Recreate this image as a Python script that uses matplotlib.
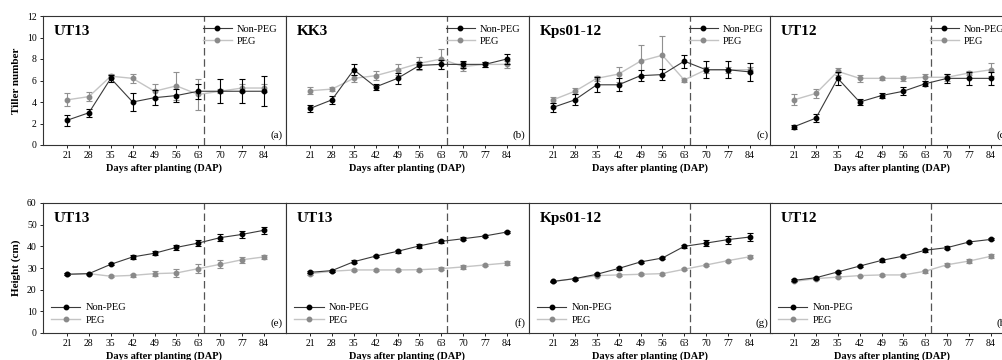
import numpy as np
import matplotlib
matplotlib.use('Agg')
import matplotlib.pyplot as plt
from matplotlib.lines import Line2D

plt.rcParams['font.family'] = ['Liberation Serif', 'DejaVu Serif']

days = [21, 28, 35, 42, 49, 56, 63, 70, 77, 84]
genotypes_top = ['UT13', 'KK3', 'Kps01-12', 'UT12']
genotypes_bottom = ['UT13', 'UT13', 'Kps01-12', 'UT12']
letters_top = ['(a)', '(b)', '(c)', '(d)']
letters_bottom = ['(e)', '(f)', '(g)', '(h)']

# tiller number, Non-PEG / PEG, mean and error
tiller_nonpeg = [
    [2.3, 3.0, 6.2, 4.0, 4.4, 4.6, 5.0, 5.0, 5.0, 5.0],
    [3.4, 4.2, 7.0, 5.4, 6.2, 7.4, 7.5, 7.5, 7.5, 8.0],
    [3.5, 4.2, 5.6, 5.6, 6.45, 6.55, 7.8, 7.0, 7.0, 6.8],
    [1.7, 2.5, 6.2, 4.0, 4.6, 5.0, 5.7, 6.2, 6.2, 6.2],
]
tiller_nonpeg_err = [
    [0.5, 0.35, 0.3, 0.85, 0.7, 0.6, 0.7, 1.1, 1.1, 1.4],
    [0.3, 0.4, 0.5, 0.3, 0.5, 0.3, 0.4, 0.3, 0.2, 0.5],
    [0.4, 0.5, 0.7, 0.6, 0.5, 0.5, 0.6, 0.8, 0.8, 0.8],
    [0.2, 0.4, 0.6, 0.3, 0.2, 0.35, 0.25, 0.4, 0.6, 0.6],
]
tiller_peg = [
    [4.2, 4.5, 6.4, 6.2, 5.0, 5.5, 4.7, 5.0, 5.3, 5.3],
    [5.05, 5.2, 6.2, 6.45, 7.0, 7.6, 8.0, 7.3, 7.5, 7.5],
    [4.2, 5.0, 6.2, 6.6, 7.8, 8.35, 6.05, 7.0, 7.0, 7.0],
    [4.2, 4.8, 6.85, 6.2, 6.2, 6.2, 6.3, 6.3, 6.7, 7.0],
]
tiller_peg_err = [
    [0.6, 0.45, 0.2, 0.4, 0.7, 1.3, 1.4, 0.2, 0.4, 0.4],
    [0.3, 0.2, 0.3, 0.4, 0.5, 0.6, 0.9, 0.4, 0.25, 0.3],
    [0.3, 0.3, 0.2, 0.7, 1.5, 1.8, 0.2, 0.3, 0.3, 0.3],
    [0.5, 0.4, 0.3, 0.3, 0.15, 0.25, 0.35, 0.35, 0.2, 0.6],
]

# plant height (cm)
height_nonpeg = [
    [27.1, 27.4, 31.7, 35.1, 36.8, 39.5, 41.5, 44.0, 45.5, 47.4],
    [28.0, 28.8, 32.9, 35.5, 37.7, 40.2, 42.3, 43.5, 44.8, 46.6],
    [23.8, 25.1, 27.1, 29.8, 32.8, 34.6, 40.0, 41.5, 43.1, 44.3],
    [24.3, 25.5, 28.2, 30.9, 33.5, 35.5, 38.2, 39.4, 42.0, 43.2],
]
height_nonpeg_err = [
    [0.5, 0.3, 0.5, 1.0, 1.0, 1.0, 1.5, 1.5, 1.5, 1.5],
    [0.5, 0.5, 0.6, 0.5, 0.6, 0.8, 0.7, 0.6, 0.5, 0.6],
    [0.3, 0.5, 0.5, 0.5, 0.6, 0.6, 0.8, 1.3, 1.8, 1.8],
    [0.4, 0.5, 0.5, 0.6, 0.5, 0.5, 0.6, 0.6, 0.6, 0.5],
]
height_peg = [
    [27.1, 27.4, 26.2, 26.6, 27.4, 27.7, 29.7, 31.7, 33.8, 35.1],
    [27.4, 28.5, 29.1, 29.1, 29.1, 29.2, 29.7, 30.5, 31.4, 32.3],
    [23.8, 25.1, 26.5, 26.8, 27.1, 27.4, 29.4, 31.4, 33.4, 35.2],
    [23.8, 25.1, 25.8, 26.5, 26.8, 26.8, 28.5, 31.5, 33.2, 35.4],
]
height_peg_err = [
    [0.5, 0.5, 0.5, 0.8, 1.3, 1.8, 2.0, 1.8, 1.3, 1.0],
    [0.5, 0.5, 0.5, 0.5, 0.5, 0.5, 0.6, 0.8, 0.6, 0.8],
    [0.4, 0.5, 0.4, 0.4, 0.4, 0.4, 0.5, 0.5, 0.5, 0.6],
    [0.4, 0.5, 0.5, 0.4, 0.4, 0.4, 0.6, 0.8, 0.8, 1.0],
]

W, H = 1003, 360
fig = plt.figure(figsize=(W / 100, H / 100), dpi=100)

lefts = [43, 286, 529, 770]
width = 243

peg_line = '#c4c4c4'
peg_mark = '#8a8a8a'


def draw_panel(ax, nonpeg, nonpeg_err, peg, peg_err, name, letter, ylim, yticks, legend_loc, first):
    ax.errorbar(days, peg, yerr=peg_err, color=peg_line, ecolor='#909090',
                marker='o', markersize=3.2, markerfacecolor=peg_mark,
                markeredgecolor=peg_mark, lw=1.0, elinewidth=0.8,
                capsize=2.5, capthick=0.8, zorder=2)
    ax.errorbar(days, nonpeg, yerr=nonpeg_err, color='#3a3a3a', ecolor='black',
                marker='o', markersize=3.2, markerfacecolor='black',
                markeredgecolor='black', lw=0.8, elinewidth=0.8,
                capsize=2.5, capthick=0.8, zorder=3)
    ax.axvline(65, color='#555555', lw=0.9, ls=(0, (6, 3)), zorder=1)
    ax.set_xlim(13.3, 91.1)
    ax.set_ylim(*ylim)
    ax.set_xticks(days)
    ax.set_yticks(yticks)
    ax.tick_params(axis='both', labelsize=7, length=2.5, width=0.6, pad=2)
    if not first:
        ax.set_yticklabels([])
        ax.tick_params(axis='y', length=0)
    for s in ax.spines.values():
        s.set_linewidth(0.8)
        s.set_color('#333333')
    ax.set_xlabel('Days after planting (DAP)', fontsize=7.5, fontweight='bold', labelpad=2)
    ax.text(0.045, 0.93, name, transform=ax.transAxes, fontsize=11,
            fontweight='bold', va='top', ha='left')
    ax.text(0.985, 0.04, letter, transform=ax.transAxes, fontsize=8,
            va='bottom', ha='right')
    handles = [
        Line2D([], [], color='#3a3a3a', lw=0.8, marker='o', markersize=3.2,
               markerfacecolor='black', markeredgecolor='black'),
        Line2D([], [], color=peg_line, lw=1.0, marker='o', markersize=3.2,
               markerfacecolor=peg_mark, markeredgecolor=peg_mark),
    ]
    ax.legend(handles, ['Non-PEG', 'PEG'], loc=legend_loc, fontsize=7.5,
              frameon=False, handlelength=2.8, labelspacing=0.3,
              borderaxespad=0.4, handletextpad=0.5)


for i in range(4):
    ax = fig.add_axes([lefts[i] / W, 1 - 145 / H, width / W, 129 / H])
    draw_panel(ax, tiller_nonpeg[i], tiller_nonpeg_err[i], tiller_peg[i], tiller_peg_err[i],
               genotypes_top[i], letters_top[i], (0, 12), range(0, 13, 2), 'upper right', i == 0)
    if i == 0:
        ax.set_ylabel('Tiller number', fontsize=8, fontweight='bold', labelpad=4)

for i in range(4):
    ax = fig.add_axes([lefts[i] / W, 1 - 333 / H, width / W, 130 / H])
    draw_panel(ax, height_nonpeg[i], height_nonpeg_err[i], height_peg[i], height_peg_err[i],
               genotypes_bottom[i], letters_bottom[i], (0, 60), range(0, 61, 10), 'lower left', i == 0)
    if i == 0:
        ax.set_ylabel('Height (cm)', fontsize=8, fontweight='bold', labelpad=4)

fig.savefig('out.png', dpi=100)
